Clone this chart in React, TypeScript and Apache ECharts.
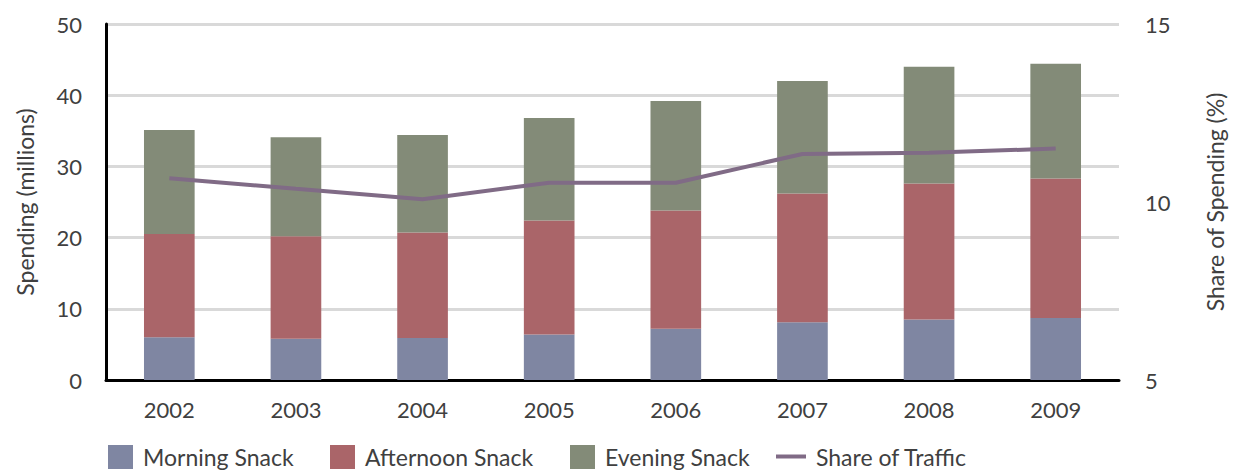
import React, { useEffect, useRef } from "react";
import * as echarts from "echarts";

const years = ["2002", "2003", "2004", "2005", "2006", "2007", "2008", "2009"];
const morning = [6.0, 5.8, 5.9, 6.4, 7.2, 8.1, 8.5, 8.7];
const afternoon = [14.5, 14.4, 14.8, 16.0, 16.6, 18.1, 19.1, 19.6];
const evening = [14.6, 13.9, 13.7, 14.4, 15.4, 15.8, 16.4, 16.1];
const shareOfTraffic = [10.67, 10.37, 10.08, 10.54, 10.54, 11.35, 11.38, 11.5];
const leftTicks = { min: 0, max: 50, interval: 10 };
const rightTicks = { min: 5, max: 15, interval: 5 };
const legendNames = ["Morning Snack", "Afternoon Snack", "Evening Snack", "Share of Traffic"];

const FONT = "Lato, 'Open Sans', sans-serif";
const TXT = "#404040";

export default function App() {
  const ref = useRef<HTMLDivElement>(null);
  useEffect(() => {
    if (!ref.current) return;
    const chart = echarts.init(ref.current, null, { renderer: "svg" });
    const legendLefts = [108, 330, 570, 776];
    const legends = legendNames.map((n, i) => ({
      left: legendLefts[i],
      top: 445,
      padding: 0,
      itemWidth: i === 3 ? 30 : 25,
      itemHeight: 24,
      textStyle: { fontSize: 23, color: TXT, fontFamily: FONT, padding: [0, 0, 0, 5] },
      data: [{ name: n, icon: i === 3 ? "path://M0,0 H30 V4 H0 Z" : "rect" }],
    }));
    chart.setOption({
      animation: false,
      textStyle: { fontFamily: FONT },
      grid: { left: 106, right: 108, top: 24, bottom: 91, containLabel: false },
      legend: legends,
      xAxis: {
        type: "category",
        data: years,
        axisLine: { show: true, lineStyle: { color: "#000", width: 3 } },
        axisTick: { show: false },
        axisLabel: { color: TXT, fontSize: 22, margin: 18, fontFamily: FONT },
      },
      yAxis: [
        {
          type: "value",
          ...leftTicks,
          name: "Spending (millions)",
          nameLocation: "middle",
          nameGap: 70,
          nameTextStyle: { color: TXT, fontSize: 23, fontFamily: FONT },
          axisLine: { show: true, lineStyle: { color: "#000", width: 3 } },
          axisTick: { show: false },
          axisLabel: { color: TXT, fontSize: 22, margin: 24, fontFamily: FONT },
          splitLine: { show: true, lineStyle: { color: "#d9d9d9", width: 3 } },
        },
        {
          type: "value",
          ...rightTicks,
          name: "Share of Spending (%)",
          nameLocation: "middle",
          nameGap: 84,
          nameRotate: 90,
          nameTextStyle: { color: TXT, fontSize: 23, fontFamily: FONT },
          axisLine: { show: false },
          axisTick: { show: false },
          axisLabel: { color: TXT, fontSize: 22, margin: 26, fontFamily: FONT },
          splitLine: { show: false },
        },
      ],
      series: [
        { name: "Morning Snack", type: "bar", stack: "s", barWidth: "40%", data: morning, itemStyle: { color: "#7f86a2" } },
        { name: "Afternoon Snack", type: "bar", stack: "s", data: afternoon, itemStyle: { color: "#aa6569" } },
        { name: "Evening Snack", type: "bar", stack: "s", data: evening, itemStyle: { color: "#838b78" } },
        {
          name: "Share of Traffic",
          type: "line",
          yAxisIndex: 1,
          data: shareOfTraffic,
          symbol: "none",
          lineStyle: { color: "#806b86", width: 4 },
          itemStyle: { color: "#806b86" },
        },
      ],
    });
    return () => chart.dispose();
  }, []);
  return <div ref={ref} style={{ width: 1234, height: 471, position: "absolute", left: 0, top: 0 }} />;
}
